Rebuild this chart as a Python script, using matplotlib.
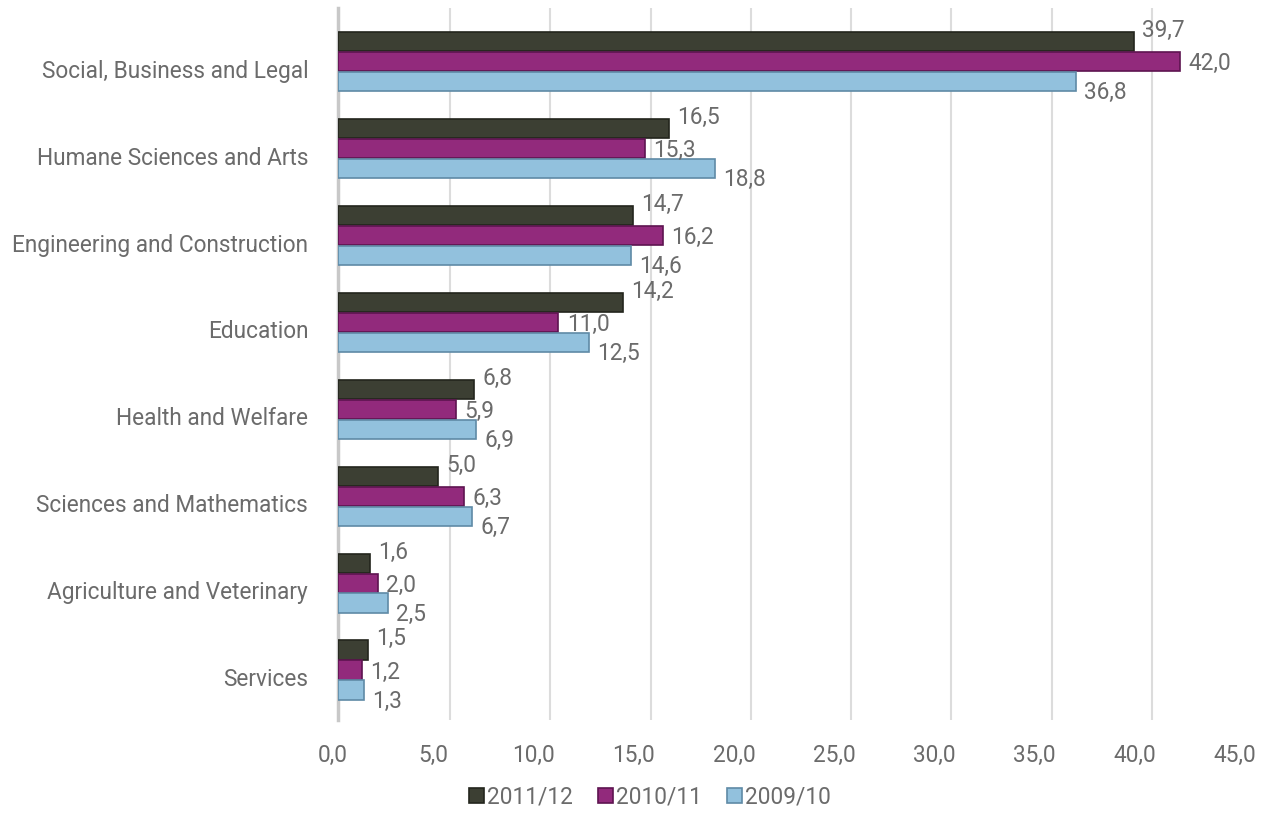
import numpy as np
import matplotlib
matplotlib.use('Agg')
import matplotlib.pyplot as plt
import matplotlib.transforms as mtransforms

plt.rcParams['font.family'] = ['Roboto', 'DejaVu Sans']

categories = ['Social, Business and Legal', 'Humane Sciences and Arts',
              'Engineering and Construction', 'Education', 'Health and Welfare',
              'Sciences and Mathematics', 'Agriculture and Veterinary', 'Services']
series = ['2011/12', '2010/11', '2009/10']
v_2011 = [39.7, 16.5, 14.7, 14.2, 6.8, 5.0, 1.6, 1.5]
v_2010 = [42.0, 15.3, 16.2, 11.0, 5.9, 6.3, 2.0, 1.2]
v_2009 = [36.8, 18.8, 14.6, 12.5, 6.9, 6.7, 2.5, 1.3]
xticks = [0, 5, 10, 15, 20, 25, 30, 35, 40, 45]

colors = ['#3c3f33', '#922a7c', '#92c1dd']
edges = ['#23251d', '#5e1450', '#5f8aa6']
txt = '#6b6b6b'
fs = 16.3

fig = plt.figure(figsize=(12.7, 8.17), dpi=100)
ax = fig.add_axes([338 / 1270, 0.1187, 902 / 1270, 0.8715])

y = np.arange(len(categories))
h = 0.23
vals = [v_2011, v_2010, v_2009]
label_dy = [8, -1.5, -8]  # points, label offsets like the 3D original

for i, (name, v) in enumerate(zip(series, vals)):
    pos = y + (i - 1) * h
    bars = ax.barh(pos, v, height=h * 0.96, color=colors[i], edgecolor=edges[i],
                   linewidth=1.2, label=name, zorder=3)
    for b, val in zip(bars, v):
        ax.annotate(f'{val:.1f}'.replace('.', ','),
                    (b.get_width(), b.get_y() + b.get_height() / 2),
                    xytext=(6, label_dy[i]), textcoords='offset points',
                    ha='left', va='center', fontsize=fs, color=txt, zorder=4)

# gridlines shifted a bit to the right, like the 3D chart back wall
off = mtransforms.ScaledTranslation(12 / 100, 0, fig.dpi_scale_trans)
ax.vlines(xticks[1:], 0, 1, transform=ax.get_xaxis_transform() + off,
          color='#dcdcdc', linewidth=1.5, zorder=1)

ax.set_xlim(0, 45)
ax.set_ylim(7.576, -0.62)
ax.set_yticks(y)
ax.set_yticklabels(categories)
ax.set_xticks(xticks)
ax.set_xticklabels([f'{t:.1f}'.replace('.', ',') for t in xticks])
ax.tick_params(axis='both', length=0, labelsize=fs, labelcolor=txt)
ax.tick_params(axis='y', pad=21.5)
ax.tick_params(axis='x', pad=17)

ydown = mtransforms.ScaledTranslation(0, -7 / 100, fig.dpi_scale_trans)
for lab in ax.get_yticklabels():
    lab.set_transform(lab.get_transform() + ydown)
xleft = mtransforms.ScaledTranslation(-5 / 100, 0, fig.dpi_scale_trans)
for lab in ax.get_xticklabels():
    lab.set_transform(lab.get_transform() + xleft)

for s in ['top', 'right', 'bottom']:
    ax.spines[s].set_visible(False)
ax.spines['left'].set_color('#c8c8c8')
ax.spines['left'].set_linewidth(2.5)

fig.legend(loc='center', bbox_to_anchor=(0.512, 0.025), ncol=3, frameon=False,
           fontsize=fs, labelcolor=txt, handlelength=0.65, handleheight=0.65,
           handletextpad=0.15, columnspacing=1.1, borderpad=0)

plt.savefig('out.png', dpi=100)
